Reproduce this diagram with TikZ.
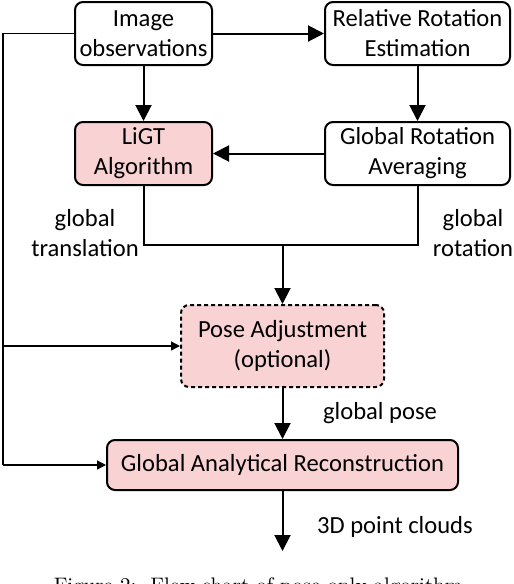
\documentclass[tikz,border=0pt]{standalone}
\usepackage{fontspec}
\setmainfont{Carlito}
\newfontfamily\capfont{Latin Modern Roman}
\usetikzlibrary{arrows.meta}
\definecolor{boxpink}{RGB}{249,210,212}
\tikzset{
  flowbox/.style={draw, line width=1pt, rounded corners=4pt, align=center,
    inner sep=0pt, minimum height=31.5pt, font=\fontsize{12.3}{15}\selectfont},
  flowline/.style={line width=1pt},
  bigarrow/.style={flowline, -{Triangle[length=8pt,width=8pt]}},
  smallarrow/.style={line width=0.7pt, -{Triangle[length=4.5pt,width=4.5pt]}},
  flowlabel/.style={align=center, inner sep=0pt, font=\fontsize{12.3}{15}\selectfont}
}
\begin{document}
\begin{tikzpicture}[x=0.5pt,y=-0.5pt]
  \useasboundingbox (0,0) rectangle (514,584);
  \clip (0,0) rectangle (514,584);
  % top row
  \node[flowbox, minimum width=68.5pt] (img) at (143.5,33.5) {Image\\observations};
  \node[flowbox, minimum width=92.5pt] (rre) at (417.5,33.5) {Relative Rotation\\Estimation};
  % second row
  \node[flowbox, fill=boxpink, minimum width=68.5pt] (ligt) at (143.5,153.5) {LiGT\\Algorithm};
  \node[flowbox, minimum width=92.5pt] (gra) at (417.5,153.5) {Global Rotation\\Averaging};
  % refinement and reconstruction
  \node[flowbox, fill=boxpink, dash pattern=on 2pt off 1.5pt, minimum width=101.5pt,
    minimum height=41pt] (pose) at (282.5,346) {Pose Adjustment\\(optional)};
  \node[flowbox, fill=boxpink, minimum width=175.5pt, minimum height=25pt] (gar)
    at (282.5,465) {Global Analytical Reconstruction};
  % helper points
  \coordinate (mrg) at (282.5,245);
  \coordinate (lt) at (3,33.5);
  \coordinate (lb) at (3,465);
  \coordinate (out) at (282.5,551);
  % connectors
  \draw[bigarrow] (img) -- (rre);
  \draw[bigarrow] (img) -- (ligt);
  \draw[bigarrow] (rre) -- (gra);
  \draw[bigarrow] (gra) -- (ligt);
  \draw[flowline] (ligt.south) |- (mrg) -| (gra.south);
  \draw[bigarrow] (mrg) -- (pose.north);
  \draw[bigarrow] (pose.south) -- (gar.north);
  \draw[bigarrow] (gar.south) -- (out);
  % feed of the observations on the left
  \draw[line width=0.7pt] (img.west) -- (lt) -- (lb);
  \draw[smallarrow] (lb) -- (gar.west);
  \draw[smallarrow] (lt |- pose.west) -- (pose.west);
  % labels
  \node[flowlabel] (gtl) at (85,233) {global\\translation};
  \node[flowlabel] (grl) at (473,233) {global\\rotation};
  \node[flowlabel] (gpl) at (380,413) {global pose};
  \node[flowlabel] (pcl) at (395,527) {3D point clouds};
  \node[anchor=base, inner sep=0pt, font=\capfont\fontsize{10.5}{12}\selectfont] (cap)
    at (261,592) {Figure 2:\ \ Flow chart of pose-only algorithm.};
\end{tikzpicture}
\end{document}
